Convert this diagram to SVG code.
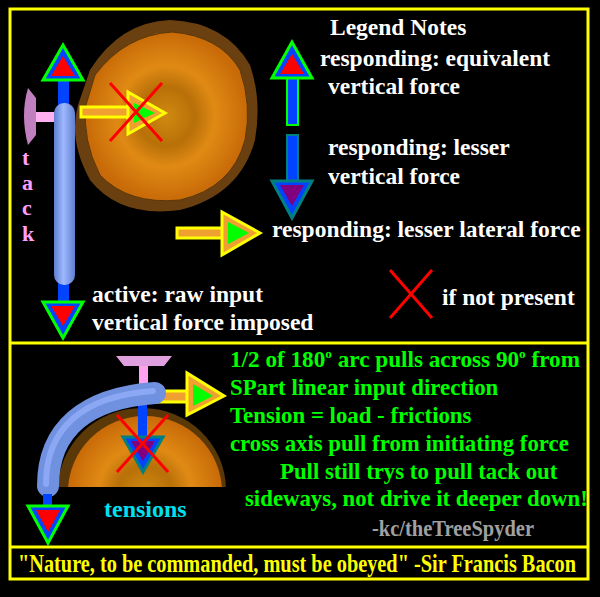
<svg xmlns="http://www.w3.org/2000/svg" width="600" height="597" viewBox="0 0 600 597">
<defs>
<radialGradient id="wood" cx="0.5" cy="0.5" r="0.5">
<stop offset="0" stop-color="#d08a10"/><stop offset="0.35" stop-color="#b87008"/><stop offset="0.6" stop-color="#e08a14"/><stop offset="1" stop-color="#c86a08"/>
</radialGradient>
<linearGradient id="tube" x1="0" x2="1" y1="0" y2="0">
<stop offset="0" stop-color="#5f7fcf"/><stop offset="0.45" stop-color="#9fb8ff"/><stop offset="1" stop-color="#5f7fcf"/>
</linearGradient>
<clipPath id="half"><rect x="0" y="340" width="600" height="147"/></clipPath>
</defs>
<style>
.w{font-family:"Liberation Serif",serif;font-weight:bold;fill:#fff;font-size:23.5px}
.g{font-family:"Liberation Serif",serif;font-weight:bold;fill:#00ff00;font-size:22.8px}
.sh{fill:#0044ff}
.hd{fill:#0044ff;stroke:#00ff00;stroke-width:3}
.hdd{fill:#0044ff;stroke:#008080;stroke-width:3}
.x{stroke:#ff0000;stroke-width:3}
.oa{fill:#f0a030;stroke:#ffff00;stroke-width:3}
</style>
<rect width="600" height="597" fill="#000"/>
<rect x="10" y="9" width="578" height="570" fill="none" stroke="#ffff00" stroke-width="3"/>
<line x1="10" y1="343" x2="588" y2="343" stroke="#ffff00" stroke-width="3"/>
<line x1="10" y1="547" x2="588" y2="547" stroke="#ffff00" stroke-width="3"/>

<g id="disk">
<path d="M90,70 Q120,22 170,20 Q225,22 250,65 Q262,100 255,140 Q240,195 180,210 Q120,218 90,180 Q68,140 78,105 Z" fill="#6a4010"/>
<path d="M95,75 Q125,35 172,32 Q220,36 240,70 Q252,105 245,140 Q232,188 180,200 Q128,205 100,175 Q82,140 86,105 Z" fill="url(#wood)" stroke="#5a3808" stroke-width="1"/>
</g>
<g id="tack">
<path d="M28,88 Q20,115 28,145 L36,135 L36,98 Z" fill="#c080c0"/>
<rect x="36" y="112" width="20" height="10" fill="#ffb0f0"/>
<text x="22" y="165" font-family="Liberation Serif,serif" font-weight="bold" font-size="22" fill="#ffa0ff">t</text>
<text x="22" y="190" font-family="Liberation Serif,serif" font-weight="bold" font-size="22" fill="#ffa0ff">a</text>
<text x="22" y="215" font-family="Liberation Serif,serif" font-weight="bold" font-size="22" fill="#ffa0ff">c</text>
<text x="22" y="241" font-family="Liberation Serif,serif" font-weight="bold" font-size="22" fill="#ffa0ff">k</text>
</g>
<g id="connectors">
<rect x="58" y="78" width="11" height="30" class="sh"/>
<polygon points="63,45 43,80 83,80" class="hd"/><polygon points="63,56 51,76 75,76" fill="#ff0000"/>
<rect x="58" y="280" width="11" height="22" class="sh"/>
<polygon points="63,338 43,302 83,302" class="hd"/><polygon points="63,326 51,306 75,306" fill="#ff0000"/>
<rect x="54" y="103" width="21" height="182" rx="10" fill="url(#tube)"/>
<rect x="81" y="107" width="50" height="10" class="oa"/><polygon points="128,92 128,134 165,113" class="oa"/><polygon points="134,103 134,123 155,113" fill="#00ff00"/>
<line x1="110" y1="83" x2="162" y2="141" class="x"/><line x1="162" y1="83" x2="110" y2="141" class="x"/>

<rect x="287" y="75" width="11" height="50" class="sh" stroke="#00ff00" stroke-width="2"/>
<polygon points="292,42 272,78 312,78" class="hd"/><polygon points="292,54 280,74 304,74" fill="#ff0000"/>
<rect x="287" y="135" width="11" height="48" class="sh" stroke="#008080" stroke-width="2"/>
<polygon points="292,218 272,181 312,181" class="hdd"/><polygon points="292,206 280,185 304,185" fill="#800080"/>
<rect x="177" y="228" width="50" height="10" class="oa"/><polygon points="222,212 222,255 260,233" class="oa"/><polygon points="228,222 228,244 249,233" fill="#00ff00"/>
<line x1="390" y1="270" x2="432" y2="318" class="x"/><line x1="432" y1="270" x2="390" y2="318" class="x"/>

<g clip-path="url(#half)">
<ellipse cx="142" cy="490" rx="84" ry="82" fill="#5a3808"/>
<ellipse cx="145" cy="492" rx="77" ry="76" fill="url(#wood)"/>
</g>
<path d="M116,356 L172,356 L164,366 L124,366 Z" fill="#e0a0e0"/>
<rect x="139" y="366" width="9" height="26" fill="#ffa0f0"/>
<rect x="158" y="391" width="36" height="11" class="oa"/><polygon points="187,373 187,415 224,396" class="oa"/><polygon points="193,384 193,406 213,396" fill="#00ff00"/>
<rect x="138" y="402" width="9" height="36" class="sh"/>
<polygon points="143,472 123,437 163,437" class="hdd"/><polygon points="143,461 131,441 155,441" fill="#800080"/>
<line x1="117" y1="415" x2="168" y2="472" class="x"/><line x1="168" y1="415" x2="117" y2="472" class="x"/>
<path d="M48,486 C48,430 85,398 155,393" fill="none" stroke="#7090e0" stroke-width="22" stroke-linecap="round"/>
<path d="M46,484 C46,428 83,396 153,391" fill="none" stroke="#9fb8ff" stroke-width="6" stroke-linecap="round" opacity="0.6"/>
<rect x="43" y="494" width="9" height="13" class="sh"/>
<polygon points="48,543 28,506 68,506" class="hd"/><polygon points="48,532 36,510 60,510" fill="#ff0000"/>
</g>
<g id="texts">
<text x="330" y="35" class="w">Legend Notes</text>
<text x="320" y="66" class="w">responding: equivalent</text>
<text x="328" y="94" class="w">vertical force</text>
<text x="328" y="155" class="w">responding: lesser</text>
<text x="328" y="184" class="w">vertical force</text>
<text x="272" y="237" class="w">responding: lesser lateral force</text>
<text x="442" y="305" class="w">if not present</text>
<text x="92" y="302" class="w">active: raw input</text>
<text x="92" y="330" class="w">vertical force imposed</text>
<text x="104" y="517" font-family="Liberation Serif,serif" font-weight="bold" font-size="24" fill="#00e0f0">tensions</text>
<text x="230" y="367" class="g" textLength="350" lengthAdjust="spacingAndGlyphs">1/2 of 180<tspan font-size="13" dy="-9">o</tspan><tspan dy="9"> arc pulls across  90</tspan><tspan font-size="13" dy="-9">o</tspan><tspan dy="9"> from</tspan></text>
<text x="230" y="395" class="g">SPart linear input direction</text>
<text x="230" y="423" class="g">Tension = load - frictions</text>
<text x="230" y="451" class="g">cross axis pull from initiating force</text>
<text x="280" y="479" class="g">Pull still trys to pull tack out</text>
<text x="245" y="506" class="g">sideways, not drive it deeper down!</text>
<text x="372" y="536" font-family="Liberation Serif,serif" font-weight="bold" font-size="24" fill="#a0a0a0" textLength="162" lengthAdjust="spacingAndGlyphs">-kc/theTreeSpyder</text>
<text x="18" y="572" font-family="Liberation Serif,serif" font-weight="bold" font-size="25" fill="#ffff00" textLength="558" lengthAdjust="spacingAndGlyphs">"Nature, to be commanded, must be obeyed" -Sir Francis Bacon</text>
</g>
</svg>
